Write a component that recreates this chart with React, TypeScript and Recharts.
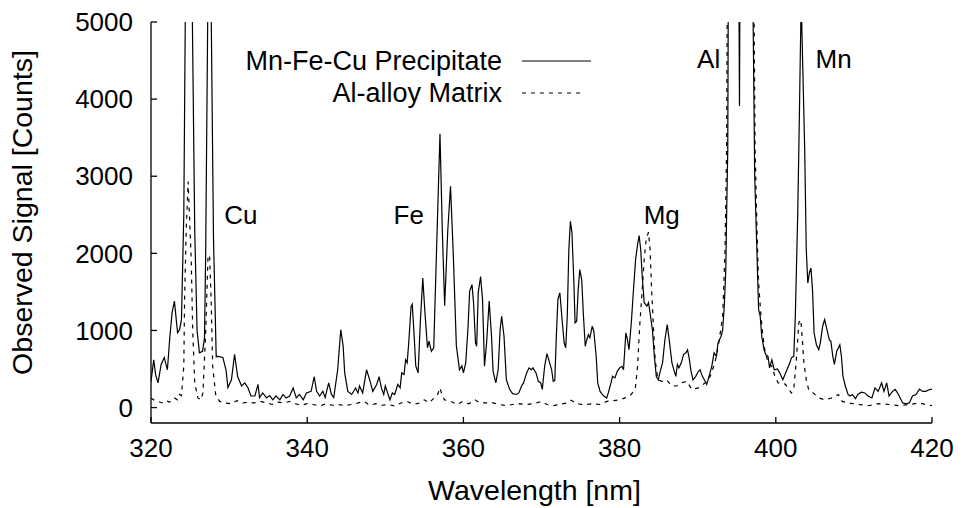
import React from "react";
import { LineChart, Line, XAxis, YAxis, Legend, ReferenceDot } from "recharts";

// ---- Data ----
const precipWavelength = [
  320.0, 320.35, 320.6, 320.9, 321.3, 321.7, 322.1, 322.4, 322.7, 323.0, 323.4, 323.65, 323.9, 324.2, 324.4, 324.7,
  325.0, 325.3, 325.6, 325.9, 326.2, 326.6, 326.85, 327.0, 327.3, 327.5, 327.7, 328.0, 328.35, 328.6, 329.2, 329.6,
  329.85, 330.3, 330.7, 331.1, 331.6, 332.0, 332.4, 332.8, 333.3, 333.7, 333.9, 334.3, 334.8, 335.2, 335.6, 336.0,
  336.5, 336.9, 337.3, 337.75, 338.2, 338.6, 339.0, 339.5, 339.9, 340.5, 340.9, 341.2, 341.6, 342.0, 342.3, 342.75,
  343.1, 343.4, 343.9, 344.3, 344.6, 344.8, 345.2, 345.7, 346.2, 346.5, 346.7, 347.1, 347.6, 348.0, 348.4, 348.9,
  349.2, 349.5, 349.8, 350.0, 350.6, 350.9, 351.2, 351.6, 351.9, 352.1, 352.4, 352.6, 352.8, 353.0, 353.3, 353.45,
  353.7, 353.9, 354.2, 354.5, 354.8, 355.05, 355.4, 355.6, 355.9, 356.2, 356.55, 357.0, 357.3, 357.6, 358.0, 358.35,
  358.7, 359.1, 359.5, 359.8, 360.0, 360.3, 360.6, 360.8, 361.1, 361.3, 361.55, 361.7, 361.9, 362.2, 362.45, 362.7,
  362.97, 363.3, 363.6, 363.8, 364.15, 364.45, 364.7, 364.9, 365.2, 365.5, 365.95, 366.3, 366.8, 367.1, 367.45, 367.7,
  368.1, 368.4, 368.7, 368.9, 369.3, 369.6, 369.9, 370.1, 370.4, 370.7, 371.1, 371.3, 371.5, 371.7, 371.9, 372.1,
  372.35, 372.6, 372.9, 373.1, 373.3, 373.5, 373.7, 373.9, 374.15, 374.3, 374.5, 374.7, 374.9, 375.15, 375.35, 375.6,
  375.8, 376.0, 376.2, 376.5, 376.7, 377.0, 377.2, 377.5, 377.9, 378.35, 378.55, 378.9, 379.1, 379.4, 379.7, 380.0,
  380.3, 380.5, 380.8, 381.0, 381.2, 381.5, 381.75, 382.05, 382.3, 382.5, 382.7, 382.9, 383.15, 383.5, 383.7, 383.9,
  384.2, 384.45, 384.7, 384.95, 385.2, 385.5, 385.8, 386.1, 386.4, 386.7, 386.95, 387.2, 387.4, 387.6, 387.9, 388.2,
  388.5, 388.7, 388.9, 389.15, 389.4, 389.75, 390.1, 390.3, 390.6, 390.85, 391.15, 391.45, 391.8, 392.1, 392.4, 392.6,
  393.0, 393.2, 393.4, 393.6, 393.7, 393.85, 394.0, 394.5, 395.0, 395.2, 395.35, 395.5, 396.0, 396.5, 397.0, 397.3,
  397.6, 397.8, 398.0, 398.2, 398.5, 398.7, 399.0, 399.2, 399.5, 399.8, 400.2, 400.5, 400.9, 401.35, 401.8, 402.0,
  402.3, 402.5, 402.8, 402.95, 403.25, 403.7, 403.9, 404.1, 404.3, 404.5, 404.7, 404.9, 405.2, 405.5, 405.7, 406.0,
  406.25, 406.55, 406.85, 407.05, 407.3, 407.5, 407.8, 408.2, 408.4, 408.6, 408.9, 409.25, 409.5, 409.8, 410.2, 410.5,
  410.95, 411.4, 411.8, 412.3, 412.7, 413.1, 413.55, 413.85, 414.2, 414.5, 414.95, 415.3, 415.7, 416.25, 416.75, 417.1,
  417.5, 417.95, 418.4, 418.8, 419.2, 419.7, 420.0,
];
const precipCounts = [
  340, 620, 420, 320, 560, 650, 490, 900, 1230, 1380, 970, 1010, 1140, 2500, 5200, 14000,
  12000, 5000, 2300, 1000, 710, 730, 900, 2000, 5500, 12000, 5200, 2200, 660, 665, 650, 490,
  260, 360, 690, 400, 280, 320, 260, 150, 150, 300, 130, 190, 125, 155, 100, 150,
  100, 170, 125, 150, 255, 125, 170, 100, 190, 210, 400, 210, 150, 210, 130, 320,
  170, 130, 490, 1010, 800, 450, 210, 170, 255, 190, 280, 190, 490, 360, 210, 300,
  400, 255, 170, 280, 100, 190, 170, 300, 255, 450, 430, 620, 580, 840, 1310, 1340,
  925, 540, 450, 1140, 1680, 1270, 775, 860, 730, 775, 2000, 3550, 2300, 1320, 2300, 2870,
  2000, 800, 490, 540, 450, 580, 1055, 1510, 1595, 1360, 840, 795, 1490, 1700, 1400, 535,
  840, 1380, 925, 470, 320, 490, 1010, 1185, 925, 360, 230, 180, 170, 190, 280, 320,
  450, 515, 490, 515, 450, 340, 320, 235, 535, 700, 560, 490, 340, 350, 925, 1400,
  1490, 1185, 840, 775, 1185, 2050, 2415, 2265, 1615, 1100, 1120, 1530, 1790, 1660, 1230, 795,
  880, 945, 905, 1055, 990, 665, 320, 210, 155, 125, 190, 320, 405, 385, 470, 515,
  535, 490, 970, 880, 750, 1100, 1490, 1920, 2115, 2230, 2050, 1700, 1360, 1315, 1360, 1230,
  1010, 665, 405, 360, 470, 580, 880, 1075, 840, 580, 490, 405, 560, 515, 580, 690,
  710, 750, 645, 470, 360, 405, 470, 490, 405, 360, 300, 405, 535, 710, 665, 840,
  925, 1010, 1315, 1790, 2480, 3350, 8000, 14000, 10000, 7000, 3910, 8000, 16000, 12000, 6000, 3000,
  1960, 1270, 1185, 925, 750, 690, 665, 515, 620, 490, 500, 450, 360, 470, 580, 645,
  665, 1185, 2480, 3350, 5300, 3350, 2050, 1615, 1745, 1810, 1530, 970, 815, 750, 840, 1055,
  1140, 1010, 880, 860, 665, 560, 730, 815, 665, 405, 280, 170, 150, 170, 115, 170,
  200, 190, 150, 125, 255, 210, 320, 210, 320, 150, 210, 235, 170, 60, 50, 60,
  150, 170, 240, 210, 210, 235, 240,
];

const matrixWavelength = [
  320.0, 320.5, 320.9, 321.4, 321.9, 322.4, 323.0, 323.4, 323.65, 323.9, 324.2, 324.3, 324.5, 324.75, 325.15, 325.35,
  325.6, 326.0, 326.4, 326.65, 327.0, 327.3, 327.5, 327.7, 327.9, 328.3, 328.8, 329.5, 330.3, 331.0, 331.8, 332.5,
  333.2, 334.0, 334.8, 335.5, 336.3, 337.0, 337.8, 338.5, 339.2, 340.0, 340.8, 341.6, 342.4, 343.2, 344.0, 344.8,
  345.6, 346.5, 347.3, 348.0, 348.8, 349.6, 350.4, 351.2, 352.0, 352.8, 353.6, 354.4, 355.0, 355.6, 356.2, 356.7,
  357.0, 357.3, 357.6, 358.4, 359.2, 359.9, 360.7, 361.5, 362.1, 362.9, 363.8, 364.6, 365.5, 366.3, 367.2, 368.1,
  369.0, 370.0, 370.7, 371.5, 372.3, 373.2, 373.8, 374.5, 375.2, 375.8, 376.6, 377.5, 378.35, 379.2, 380.0, 380.7,
  381.3, 382.0, 382.3, 382.6, 382.9, 383.15, 383.4, 383.7, 383.9, 384.1, 384.35, 384.55, 384.9, 385.4, 386.0, 386.7,
  387.3, 387.9, 388.6, 389.25, 390.1, 390.95, 391.6, 392.2, 392.7, 393.2, 393.5, 393.7, 393.9, 395.3, 397.0, 397.35,
  397.6, 397.8, 398.1, 398.35, 398.65, 399.05, 399.5, 399.85, 400.3, 401.2, 402.0, 402.3, 402.6, 402.95, 403.2, 403.4,
  403.6, 403.9, 404.2, 404.8, 405.5, 406.3, 407.2, 408.0, 408.5, 409.3, 410.6, 411.9, 413.2, 414.5, 415.8, 417.1,
  418.4, 419.7, 420.0,
];
const matrixCounts = [
  125, 90, 80, 60, 90, 70, 125, 100, 170, 155, 535, 1400, 2270, 2930, 1920, 970,
  320, 125, 100, 190, 970, 1960, 1980, 1400, 535, 150, 80, 60, 50, 90, 60, 70,
  60, 80, 60, 40, 70, 60, 80, 50, 30, 50, 40, 20, 50, 30, 40, 25,
  40, 60, 80, 30, 50, 30, 40, 20, 60, 80, 40, 60, 100, 60, 120, 170,
  255, 150, 100, 80, 40, 80, 50, 100, 60, 60, 60, 40, 25, 40, 50, 40,
  50, 80, 40, 25, 40, 60, 95, 50, 40, 40, 50, 40, 80, 90, 100, 125,
  150, 235, 535, 1100, 1530, 1920, 2180, 2275, 2050, 1530, 1010, 620, 360, 340, 360, 280,
  280, 320, 340, 235, 255, 320, 405, 580, 840, 1185, 2050, 3350, 8000, 20000, 8000, 3350,
  2270, 1615, 1185, 925, 710, 580, 535, 420, 320, 305, 190, 240, 580, 1100, 1140, 880,
  580, 360, 235, 190, 125, 100, 125, 170, 80, 60, 40, 25, 50, 40, 25, 40,
  60, 25, 30,
];

const seriesNames = ["Mn-Fe-Cu Precipitate", "Al-alloy Matrix"];
const xTicks = [320, 340, 360, 380, 400, 420];
const yTicks = [0, 1000, 2000, 3000, 4000, 5000];
const xDomain = [320, 420];
const yDomain = [-200, 5000];
const elementLabels = ["Cu", "Fe", "Mg", "Al", "Mn"];
const elementLabelX = [331.5, 353.0, 385.4, 391.4, 407.4];
const elementLabelY = [2500, 2500, 2500, 4520, 4520];
const xTitle = "Wavelength [nm]";
const yTitle = "Observed Signal [Counts]";

const precipData = precipWavelength.map((x, i) => ({ x, y: precipCounts[i] }));
const matrixData = matrixWavelength.map((x, i) => ({ x, y: matrixCounts[i] }));

const FONT = "'Liberation Sans', Arial, Helvetica, sans-serif";
const FS = 26;
const FS_TITLE = 28.5;
const FS_LEGEND = 27;
const DASH = "4 5";

const YTitle = (props: any) => {
  const vb = props.viewBox || { x: 0, y: 0, width: 0, height: 0 };
  const cx = vb.x + 22;
  const cy = vb.y + vb.height / 2 - 10;
  return (
    <text x={cx} y={cy} transform={`rotate(-90 ${cx} ${cy})`} textAnchor="middle" dominantBaseline="central"
      fontSize={FS_TITLE} fill="#000" fontFamily={FONT}>{yTitle}</text>
  );
};

const XTitle = (props: any) => {
  const vb = props.viewBox || { x: 0, y: 0, width: 0, height: 0 };
  const cx = vb.x + vb.width / 2 - 7;
  const cy = vb.y + 67;
  return (
    <text x={cx} y={cy} textAnchor="middle" dominantBaseline="central" fontSize={FS_TITLE} fill="#000" fontFamily={FONT}>{xTitle}</text>
  );
};

const LegendBox = (props: any) => {
  const payload = props.payload || [];
  return (
    <svg width={420} height={80} style={{ display: "block" }}>
      {seriesNames.map((name, i) => {
        const entry = payload.find((p: any) => p.value === name);
        const dash = entry && entry.payload && entry.payload.strokeDasharray ? entry.payload.strokeDasharray : i === 1 ? DASH : undefined;
        const cy = 31 + i * 32;
        return (
          <g key={name}>
            <text x={302} y={cy} textAnchor="end" dominantBaseline="central" fontSize={FS_LEGEND} fill="#000" fontFamily={FONT}>{name}</text>
            <line x1={322} x2={i === 1 ? 381 : 391} y1={cy} y2={cy} stroke="#000" strokeWidth={1.2} strokeDasharray={dash} />
          </g>
        );
      })}
    </svg>
  );
};

export default function App() {
  return (
    <div style={{ position: "absolute", left: 0, top: 0, width: 963, height: 508, background: "#fff", fontFamily: FONT }}>
      <LineChart width={963} height={508} margin={{ top: 22, right: 31, bottom: 0, left: 0 }}>
        <XAxis xAxisId="bottom" type="number" dataKey="x" domain={xDomain} ticks={xTicks} allowDataOverflow
          orientation="bottom" height={85} tickSize={-6} tickMargin={22} stroke="#000" strokeWidth={1.3}
          tick={{ fill: "#000", fontSize: FS, fontFamily: FONT }} label={<XTitle />} />
        <XAxis xAxisId="top" type="number" dataKey="x" domain={xDomain} ticks={xTicks} allowDataOverflow
          orientation="top" height={0} tickSize={-6} tick={false} stroke="#000" strokeWidth={1.3} />
        <YAxis yAxisId="left" type="number" domain={yDomain} ticks={yTicks} allowDataOverflow
          width={151} tickSize={-6} tickMargin={24} stroke="#000" strokeWidth={1.3}
          tick={{ fill: "#000", fontSize: FS, fontFamily: FONT }} label={<YTitle />} />
        <YAxis yAxisId="right" type="number" domain={yDomain} ticks={yTicks} allowDataOverflow
          orientation="right" width={0} tickSize={-6} tick={false} stroke="#000" strokeWidth={1.3} />
        <Legend layout="horizontal" verticalAlign="middle" align="center" content={<LegendBox />}
          wrapperStyle={{ left: 200, top: 30, width: 420, height: 80 }} />
        <Line xAxisId="bottom" yAxisId="left" name={seriesNames[0]} data={precipData} dataKey="y" type="linear"
          stroke="#000" strokeWidth={1.2} dot={false} isAnimationActive={false} />
        <Line xAxisId="bottom" yAxisId="left" name={seriesNames[1]} data={matrixData} dataKey="y" type="linear"
          stroke="#000" strokeWidth={1.2} strokeDasharray={DASH} dot={false} isAnimationActive={false} />
        {elementLabels.map((t, i) => (
          <ReferenceDot key={t} xAxisId="bottom" yAxisId="left" x={elementLabelX[i]} y={elementLabelY[i]} r={0}
            fill="none" stroke="none"
            label={{ value: t, position: "center", fontSize: FS, fill: "#000", fontFamily: FONT }} />
        ))}
      </LineChart>
    </div>
  );
}
